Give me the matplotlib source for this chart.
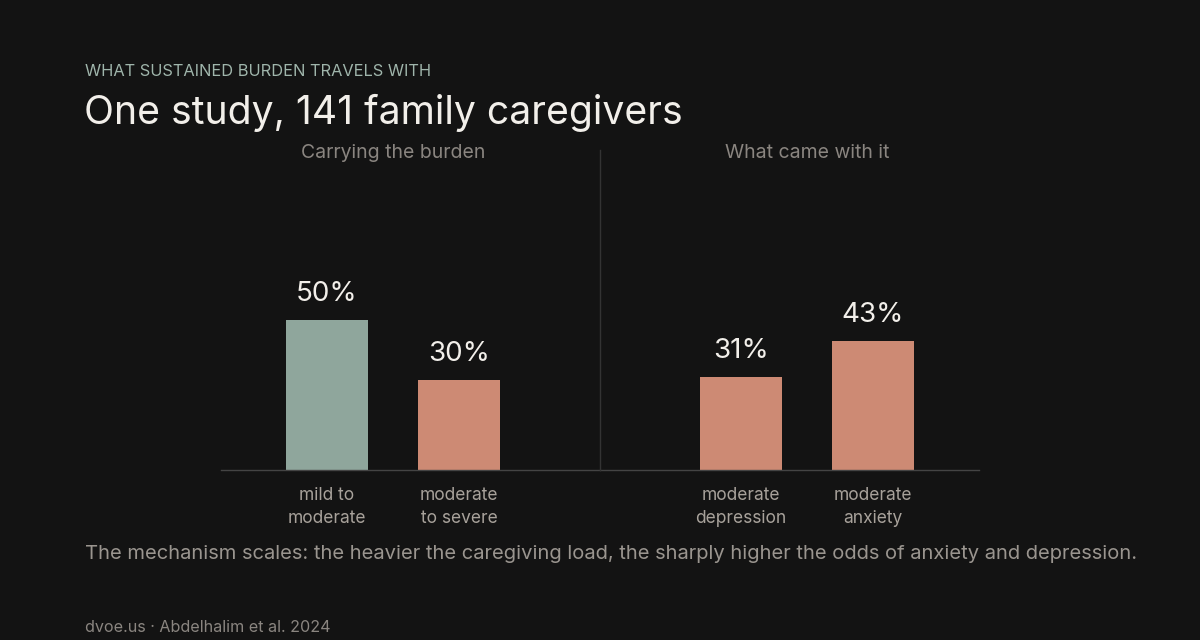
import matplotlib
matplotlib.use("Agg")
import matplotlib.pyplot as plt

# données
cat_gauche = ["mild to\nmoderate", "moderate\nto severe"]
val_gauche = [50, 30]
cat_droite = ["moderate\ndepression", "moderate\nanxiety"]
val_droite = [31, 43]

fond = "#131313"
vert = "#8fa69c"
saumon = "#cd8a74"

plt.rcParams["font.family"] = ["Inter", "DejaVu Sans"]

fig = plt.figure(figsize=(12, 6.4), dpi=100, facecolor=fond)
W, H = 1200, 640

def axes_px(x0, y0, x1, y1):
    return fig.add_axes([x0 / W, 1 - y1 / H, (x1 - x0) / W, (y1 - y0) / H])

ax1 = axes_px(221, 150, 600, 470)
ax2 = axes_px(600, 150, 979, 470)

panneaux = [
    (ax1, cat_gauche, val_gauche, [vert, saumon], (-0.803, 2.068), "Carrying the burden"),
    (ax2, cat_droite, val_droite, [saumon, saumon], (-1.068, 1.803), "What came with it"),
]

for ax, cats, vals, couleurs, xl, titre in panneaux:
    ax.set_facecolor("none")
    x = list(range(len(cats)))
    ax.bar(x, vals, width=0.62, color=couleurs)
    for i in x:
        ax.text(i, vals[i] + 4.3, f"{vals[i]}%", ha="center", va="bottom",
                fontsize=20, color="#f2efea")
    ax.set_xlim(*xl)
    ax.set_ylim(0, 320 / 3)
    ax.set_xticks(x)
    ax.set_xticklabels(cats, fontsize=12.5, color="#a8a29b", linespacing=1.5)
    ax.tick_params(axis="x", length=0, pad=12)
    ax.set_yticks([])
    for s in ["top", "left", "right"]:
        ax.spines[s].set_visible(False)
    ax.spines["bottom"].set_color("#444444")
    ax.spines["bottom"].set_linewidth(1)
    ax.text(0.5, 0.99, titre, transform=ax.get_xaxis_transform(), ha="center",
            va="center", fontsize=14, color="#8a8580")

# séparateur vertical
fig.add_artist(plt.Line2D([600 / W, 600 / W], [1 - 470 / H, 1 - 150 / H],
                          transform=fig.transFigure, color="#333333", lw=1))

fig.text(85 / W, 1 - 71 / H, "WHAT SUSTAINED BURDEN TRAVELS WITH", fontsize=11.8,
         color="#9fb5ab", va="center")
fig.text(84 / W, 1 - 113 / H, "One study, 141 family caregivers", fontsize=28.2,
         color="#f2efea", va="center")
fig.text(85 / W, 1 - 554 / H,
         "The mechanism scales: the heavier the caregiving load, the sharply higher the odds of anxiety and depression.",
         fontsize=14.5, color="#9a958f", va="center")
fig.text(85 / W, 1 - 628 / H, "dvoe.us · Abdelhalim et al. 2024", fontsize=11.6,
         color="#8a8580", va="center")

fig.savefig("out.png", dpi=100, facecolor=fond)
